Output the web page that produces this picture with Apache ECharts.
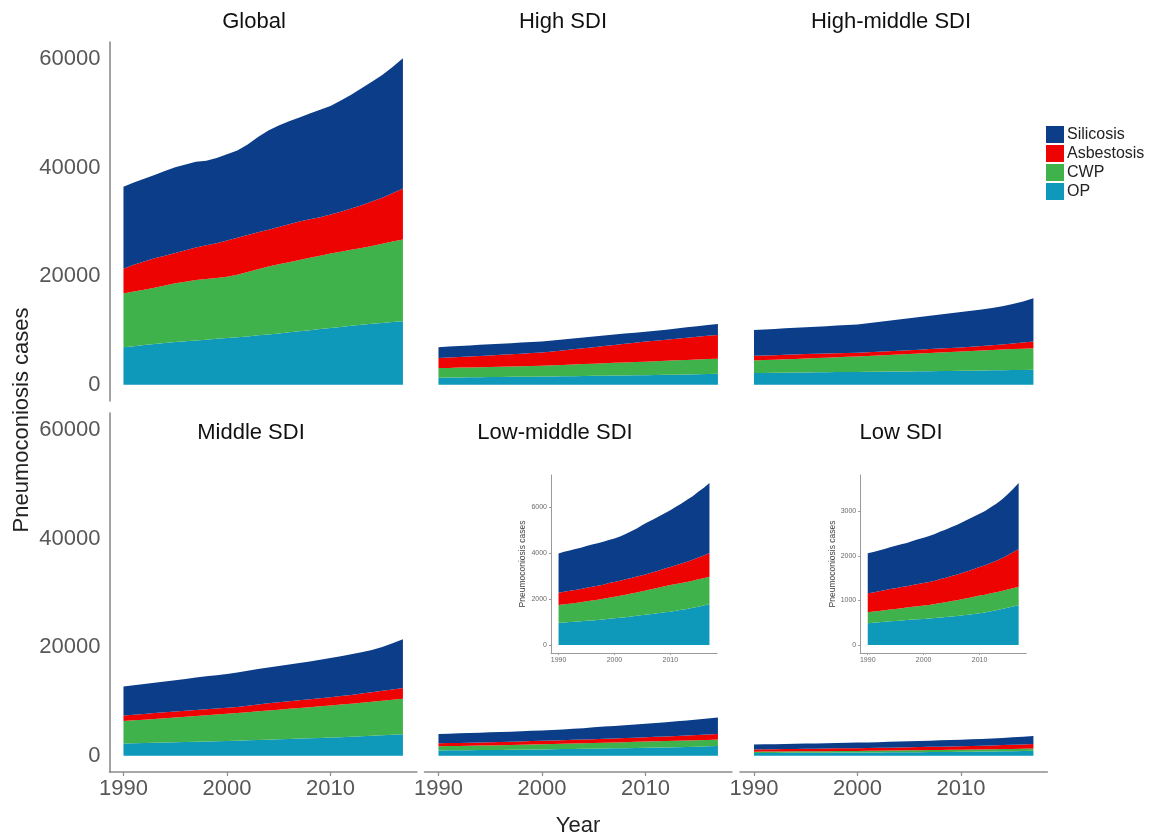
<!DOCTYPE html>
<html>
<head>
<meta charset="utf-8">
<script src="https://cdn.jsdelivr.net/npm/echarts@6/dist/echarts.min.js"></script>
<style>
  html, body { margin: 0; padding: 0; background: #ffffff; }
  #chart { width: 1158px; height: 838px; }
</style>
</head>
<body>
<div id="chart"></div>
<script>
// Years on the x axis
const years = [1990, 1991, 1992, 1993, 1994, 1995, 1996, 1997, 1998, 1999,
               2000, 2001, 2002, 2003, 2004, 2005, 2006, 2007, 2008, 2009,
               2010, 2011, 2012, 2013, 2014, 2015, 2016, 2017];

// Stacking order, bottom to top, and legend order
const stackOrder = ['OP', 'CWP', 'Asbestosis', 'Silicosis'];
const legendOrder = ['Silicosis', 'Asbestosis', 'CWP', 'OP'];
const diseaseColors = { Silicosis: '#0c3d89', Asbestosis: '#ee0303', CWP: '#40b24b', OP: '#0e98ba' };

const panelTitles = ['Global', 'High SDI', 'High-middle SDI', 'Middle SDI', 'Low-middle SDI', 'Low SDI'];
const xTickYears = [1990, 2000, 2010];
const yTicksMain = [0, 20000, 40000, 60000];
const yTicksLowMiddleInset = [0, 2000, 4000, 6000];
const yTicksLowInset = [0, 1000, 2000, 3000];

// Cases by disease, Global
const globalOP = [6900, 7100, 7300, 7500, 7700, 7850, 8000, 8150, 8300, 8450, 8600, 8750, 8900, 9100, 9250, 9450, 9650, 9850, 10050, 10250, 10450, 10650, 10850, 11050, 11250, 11400, 11550, 11700];
const globalCWP = [9900, 10100, 10200, 10400, 10600, 10850, 11000, 11150, 11200, 11250, 11300, 11550, 11900, 12200, 12550, 12750, 12950, 13150, 13350, 13550, 13750, 13850, 14050, 14150, 14350, 14600, 14850, 15100];
const globalAsbestosis = [4600, 4900, 5200, 5400, 5500, 5600, 5800, 6000, 6200, 6400, 6700, 6800, 6800, 6800, 6800, 6900, 7000, 7100, 7100, 7100, 7200, 7400, 7600, 7900, 8200, 8500, 8900, 9400];
const globalSilicosis = [15100, 15200, 15300, 15400, 15600, 15800, 15800, 15800, 15600, 15700, 15900, 16100, 16700, 17600, 18300, 18700, 19000, 19200, 19500, 19800, 20000, 20500, 21000, 21600, 22100, 22600, 23300, 24000];

// High SDI
const highOP = [1300, 1320, 1345, 1360, 1385, 1400, 1420, 1445, 1460, 1480, 1500, 1525, 1550, 1575, 1600, 1625, 1650, 1675, 1700, 1725, 1750, 1785, 1820, 1855, 1890, 1925, 1960, 2000];
const highCWP = [1760, 1780, 1805, 1830, 1850, 1875, 1900, 1925, 1950, 1975, 2000, 2050, 2100, 2150, 2200, 2250, 2300, 2350, 2400, 2450, 2500, 2540, 2590, 2630, 2680, 2720, 2760, 2800];
const highAsbestosis = [1840, 1900, 1950, 2010, 2070, 2130, 2190, 2250, 2310, 2370, 2430, 2550, 2670, 2800, 2920, 3050, 3180, 3310, 3440, 3570, 3700, 3800, 3890, 3990, 4090, 4190, 4290, 4380];
const highSilicosis = [2020, 2030, 2030, 2040, 2040, 2050, 2050, 2040, 2040, 2030, 2030, 2010, 2000, 1980, 1960, 1940, 1920, 1900, 1880, 1840, 1800, 1820, 1850, 1880, 1920, 1960, 1990, 2020];

// High-middle SDI
const highMiddleOP = [2150, 2170, 2190, 2210, 2230, 2260, 2280, 2300, 2320, 2340, 2350, 2370, 2390, 2410, 2430, 2450, 2470, 2490, 2510, 2530, 2550, 2580, 2610, 2640, 2670, 2700, 2720, 2750];
const highMiddleCWP = [2310, 2360, 2420, 2470, 2530, 2580, 2640, 2690, 2750, 2800, 2850, 2920, 2990, 3060, 3130, 3200, 3270, 3350, 3420, 3500, 3570, 3630, 3690, 3750, 3810, 3870, 3930, 3990];
const highMiddleAsbestosis = [870, 860, 840, 830, 810, 800, 780, 760, 740, 720, 700, 700, 700, 710, 710, 720, 720, 730, 740, 740, 750, 780, 820, 870, 930, 1010, 1110, 1220];
const highMiddleSilicosis = [4770, 4800, 4840, 4880, 4920, 4960, 5000, 5040, 5090, 5150, 5220, 5330, 5460, 5600, 5750, 5890, 6020, 6150, 6280, 6410, 6540, 6640, 6760, 6900, 7080, 7310, 7600, 7960];

// Middle SDI
const middleOP = [2240, 2290, 2330, 2380, 2420, 2470, 2520, 2570, 2610, 2660, 2710, 2770, 2830, 2900, 2960, 3020, 3080, 3150, 3210, 3280, 3340, 3420, 3500, 3590, 3680, 3770, 3850, 3940];
const middleCWP = [4140, 4230, 4320, 4400, 4490, 4580, 4670, 4760, 4850, 4940, 5020, 5110, 5200, 5290, 5380, 5470, 5560, 5650, 5740, 5830, 5920, 6010, 6100, 6190, 6280, 6370, 6460, 6540];
const middleAsbestosis = [1040, 1050, 1060, 1070, 1080, 1080, 1090, 1090, 1100, 1100, 1100, 1110, 1160, 1240, 1310, 1350, 1380, 1410, 1450, 1480, 1520, 1560, 1610, 1680, 1750, 1830, 1920, 2020];
const middleSilicosis = [5320, 5420, 5520, 5610, 5700, 5790, 5880, 5980, 6070, 6150, 6240, 6370, 6460, 6540, 6610, 6700, 6790, 6880, 6980, 7090, 7220, 7350, 7480, 7600, 7780, 8100, 8500, 8980];

// Low-middle SDI
const lowMiddleOP = [970, 980, 1000, 1010, 1030, 1050, 1070, 1090, 1110, 1140, 1160, 1180, 1210, 1240, 1270, 1300, 1330, 1360, 1390, 1420, 1450, 1490, 1530, 1570, 1620, 1670, 1720, 1780];
const lowMiddleCWP = [770, 790, 800, 820, 830, 850, 870, 880, 900, 920, 940, 960, 980, 1000, 1020, 1040, 1070, 1090, 1110, 1140, 1160, 1170, 1170, 1180, 1180, 1190, 1190, 1190];
const lowMiddleAsbestosis = [540, 550, 560, 570, 580, 590, 600, 610, 620, 640, 650, 660, 670, 680, 690, 700, 710, 730, 750, 770, 790, 820, 850, 880, 910, 950, 990, 1040];
const lowMiddleSilicosis = [1710, 1740, 1760, 1780, 1800, 1820, 1840, 1850, 1870, 1880, 1890, 1930, 1980, 2040, 2100, 2190, 2250, 2300, 2360, 2410, 2470, 2550, 2620, 2700, 2780, 2870, 2960, 3050];

// Low SDI
const lowOP = [490, 500, 510, 520, 530, 540, 550, 560, 570, 575, 585, 595, 605, 615, 625, 640, 650, 665, 680, 695, 710, 730, 755, 780, 805, 835, 865, 900];
const lowCWP = [245, 250, 255, 260, 265, 270, 275, 280, 290, 295, 300, 305, 315, 325, 335, 345, 355, 365, 375, 390, 400, 400, 405, 405, 405, 410, 410, 410];
const lowAsbestosis = [425, 430, 440, 450, 460, 465, 475, 480, 490, 500, 505, 515, 525, 540, 550, 565, 580, 595, 610, 625, 640, 660, 685, 710, 740, 770, 810, 850];
const lowSilicosis = [900, 910, 920, 930, 940, 955, 965, 975, 990, 1005, 1020, 1035, 1050, 1070, 1085, 1100, 1120, 1140, 1160, 1180, 1200, 1220, 1250, 1280, 1320, 1370, 1420, 1480];

const panelData = [
  { OP: globalOP, CWP: globalCWP, Asbestosis: globalAsbestosis, Silicosis: globalSilicosis },
  { OP: highOP, CWP: highCWP, Asbestosis: highAsbestosis, Silicosis: highSilicosis },
  { OP: highMiddleOP, CWP: highMiddleCWP, Asbestosis: highMiddleAsbestosis, Silicosis: highMiddleSilicosis },
  { OP: middleOP, CWP: middleCWP, Asbestosis: middleAsbestosis, Silicosis: middleSilicosis },
  { OP: lowMiddleOP, CWP: lowMiddleCWP, Asbestosis: lowMiddleAsbestosis, Silicosis: lowMiddleSilicosis },
  { OP: lowOP, CWP: lowCWP, Asbestosis: lowAsbestosis, Silicosis: lowSilicosis }
];

const FONT = 'Liberation Sans, Arial, Helvetica, sans-serif';
const AXIS_GREY = '#8c8c8c';
const LABEL_GREY = '#575757';

// x range padded 5% either side of 1990-2017
const X_MIN = 1988.65, X_MAX = 2018.35;

// 5% pad on both ends of the value range
function padRange(maxTotal) {
  const pad = maxTotal * 0.05;
  return [-pad, maxTotal + pad];
}
function maxTotal(d) {
  let m = 0;
  years.forEach((_, k) => {
    const t = stackOrder.reduce((s, name) => s + d[name][k], 0);
    if (t > m) m = t;
  });
  return m;
}
const mainRange = padRange(Math.max.apply(null, panelData.map(maxTotal)));

// Facet layout: 3 columns x 2 rows
const colLeft = [109.5, 424.5, 740];
const rowTop = [42, 413];
const panelW = 307.4, panelH = 359;

const grids = [], xAxes = [], yAxes = [], series = [];

panelData.forEach((d, i) => {
  const row = Math.floor(i / 3), col = i % 3;
  grids.push({ left: colLeft[col], top: rowTop[row], width: panelW, height: panelH });
  const bottomRow = row === 1, firstCol = col === 0;
  xAxes.push({
    type: 'value', gridIndex: i, min: X_MIN, max: X_MAX,
    axisLine: { show: bottomRow, onZero: false, lineStyle: { color: AXIS_GREY, width: 1.6 } },
    axisTick: { show: bottomRow, customValues: xTickYears, length: 4, lineStyle: { color: AXIS_GREY, width: 1.2 } },
    axisLabel: { show: bottomRow, customValues: xTickYears, formatter: v => String(v),
                 fontSize: 22, color: LABEL_GREY, fontFamily: FONT, margin: 6 },
    splitLine: { show: false }
  });
  yAxes.push({
    type: 'value', gridIndex: i, min: mainRange[0], max: mainRange[1],
    axisLine: { show: firstCol, lineStyle: { color: AXIS_GREY, width: 1.6 } },
    axisTick: { show: false },
    axisLabel: { show: firstCol, customValues: yTicksMain, formatter: v => String(v),
                 fontSize: 22, color: LABEL_GREY, fontFamily: FONT, margin: 9 },
    splitLine: { show: false }
  });
});

// Zoomed insets for the two smallest panels
const insets = [
  { data: panelData[4], left: 551, ticks: yTicksLowMiddleInset },
  { data: panelData[5], left: 860.2, ticks: yTicksLowInset }
];
insets.forEach(ins => {
  const gi = grids.length;
  const r = padRange(maxTotal(ins.data));
  grids.push({ left: ins.left, top: 475, width: 166, height: 178 });
  xAxes.push({
    type: 'value', gridIndex: gi, min: X_MIN, max: X_MAX,
    axisLine: { show: true, onZero: false, lineStyle: { color: '#9a9a9a', width: 1 } },
    axisTick: { show: true, customValues: xTickYears, length: 2, lineStyle: { color: '#9a9a9a' } },
    axisLabel: { customValues: xTickYears, formatter: v => String(v), fontSize: 7, color: '#6a6a6a', fontFamily: FONT, margin: 4 },
    splitLine: { show: false }
  });
  yAxes.push({
    type: 'value', gridIndex: gi, min: r[0], max: r[1],
    name: 'Pneumoconiosis cases', nameLocation: 'middle', nameGap: 23,
    nameTextStyle: { fontSize: 8.5, color: '#444', fontFamily: FONT },
    axisLine: { show: true, lineStyle: { color: '#9a9a9a', width: 1 } },
    axisTick: { show: true, customValues: ins.ticks, length: 2, lineStyle: { color: '#9a9a9a' } },
    axisLabel: { customValues: ins.ticks, formatter: v => String(v), fontSize: 7, color: '#6a6a6a', fontFamily: FONT, margin: 4 },
    splitLine: { show: false }
  });
  panelData.push(ins.data);
});

// Stacked areas for every panel and inset.
// Each point is [cases, year] with the value column first, so the stack runs on y.
panelData.forEach((d, i) => {
  stackOrder.forEach(name => {
    series.push({
      name: name, type: 'line', xAxisIndex: i, yAxisIndex: i, stack: 'panel' + i,
      encode: { x: 1, y: 0 },
      data: years.map((y, k) => [d[name][k], y]),
      symbol: 'none', showSymbol: false, smooth: false, silent: true,
      color: diseaseColors[name],
      lineStyle: { width: 0, color: diseaseColors[name] },
      areaStyle: { color: diseaseColors[name], opacity: 1 },
      z: 2
    });
  });
});

// Facet strip titles and axis titles
const stripPos = [[254, 22], [563, 22], [891, 22], [251, 433], [555, 433], [901, 433]];
const graphics = panelTitles.map((t, i) => ({
  type: 'text', x: stripPos[i][0], y: stripPos[i][1],
  style: { text: t, fontSize: 22, fill: '#111', fontFamily: FONT, align: 'center', verticalAlign: 'middle' }
}));
graphics.push({
  type: 'text', x: 22, y: 420, rotation: Math.PI / 2,
  style: { text: 'Pneumoconiosis cases', fontSize: 22, fill: '#222', fontFamily: FONT, align: 'center', verticalAlign: 'middle' }
});
graphics.push({
  type: 'text', x: 578, y: 826,
  style: { text: 'Year', fontSize: 22, fill: '#222', fontFamily: FONT, align: 'center', verticalAlign: 'middle' }
});

const chart = echarts.init(document.getElementById('chart'), null, { renderer: 'canvas' });
chart.setOption({
  animation: false,
  backgroundColor: '#ffffff',
  grid: grids,
  xAxis: xAxes,
  yAxis: yAxes,
  legend: {
    data: legendOrder, orient: 'vertical', left: 1046, top: 126, padding: 0,
    icon: 'rect', itemWidth: 18, itemHeight: 17, itemGap: 2,
    selectedMode: false,
    textStyle: { fontSize: 16, color: '#222', fontFamily: FONT, padding: [0, 0, 0, -2] }
  },
  graphic: graphics,
  series: series
});
</script>
</body>
</html>
